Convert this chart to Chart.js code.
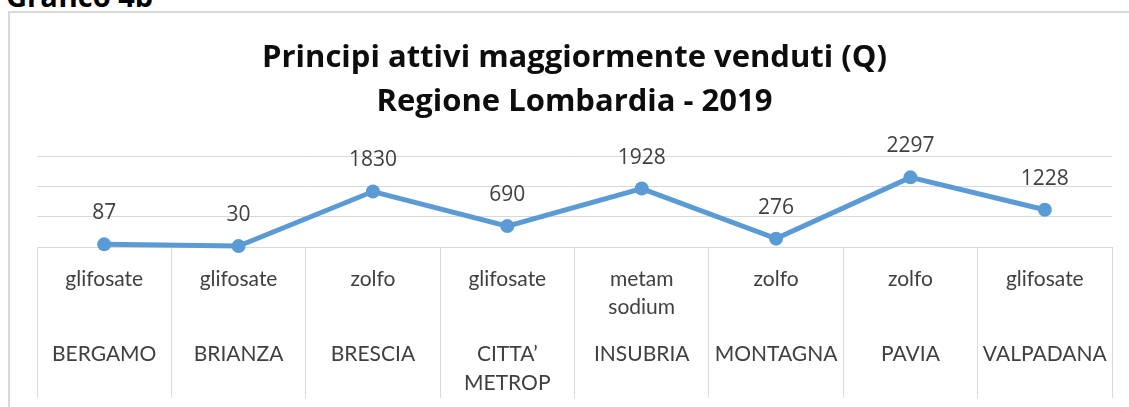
<!DOCTYPE html>
<html lang="it">
<head>
<meta charset="utf-8">
<title>Grafico 4b</title>
<script src="https://cdn.jsdelivr.net/npm/chart.js@4"></script>
<style>
  body { margin: 0; background: #fff; width: 1129px; height: 407px; overflow: hidden; position: relative; }
  .didascalia { position: absolute; left: 6px; top: -19px; font: bold 29px "Open Sans", sans-serif; line-height: 29px; color: #000; }
  .cornice { position: absolute; left: 8px; top: 11px; width: 1200px; height: 500px; border: 2px solid #d9d9d9; box-sizing: border-box; }
  #grafico { position: absolute; left: 0; top: 0; }
</style>
</head>
<body>
<div class="didascalia">Grafico 4b</div>
<div class="cornice"></div>
<canvas id="grafico" width="1129" height="407"></canvas>
<script>
const regioni = ["BERGAMO", "BRIANZA", "BRESCIA", ["CITTA’", "METROP"], "INSUBRIA", "MONTAGNA", "PAVIA", "VALPADANA"];
const principi = ["glifosate", "glifosate", "zolfo", "glifosate", ["metam", "sodium"], "zolfo", "zolfo", "glifosate"];
const quantita = [87, 30, 1830, 690, 1928, 276, 2297, 1228];
const titolo = ["Principi attivi maggiormente venduti (Q)", "Regione Lombardia - 2019"];
const asseMax = 3000;
const asseStep = 1000;

const coloreTesto = "#404040";
const fontAsse = "21px Lato, sans-serif";
const fontValori = "21px 'Open Sans', sans-serif";

// etichette dei valori sopra i punti
const etichetteValori = {
  id: "etichetteValori",
  afterDatasetsDraw(chart) {
    const ctx = chart.ctx;
    const meta = chart.getDatasetMeta(0);
    ctx.save();
    ctx.font = fontValori;
    ctx.fillStyle = coloreTesto;
    ctx.textAlign = "center";
    ctx.textBaseline = "middle";
    meta.data.forEach((p, i) => {
      ctx.fillText(String(quantita[i]), p.x, p.y - 31);
    });
    ctx.restore();
  }
};

// asse a due livelli: principio attivo sopra, ATS sotto
const asseDueLivelli = {
  id: "asseDueLivelli",
  afterDraw(chart) {
    const ctx = chart.ctx;
    const x = chart.scales.x;
    const base = chart.chartArea.bottom;
    ctx.save();
    ctx.font = fontAsse;
    ctx.fillStyle = coloreTesto;
    ctx.textAlign = "center";
    ctx.textBaseline = "middle";
    regioni.forEach((r, i) => {
      const cx = x.getPixelForValue(i);
      [].concat(principi[i]).forEach((riga, k) => {
        ctx.fillText(riga, cx, base + 32 + k * 28);
      });
      [].concat(r).forEach((riga, k) => {
        ctx.fillText(riga, cx, base + 107 + k * 29);
      });
    });
    ctx.restore();
  }
};

new Chart(document.getElementById("grafico").getContext("2d"), {
  type: "line",
  data: {
    labels: regioni.map(r => [].concat(r).join(" ")),
    datasets: [{
      data: quantita,
      borderColor: "#5b9bd5",
      backgroundColor: "#5b9bd5",
      borderWidth: 5,
      pointRadius: 7,
      pointBorderWidth: 0,
      tension: 0,
      clip: false
    }]
  },
  options: {
    responsive: false,
    devicePixelRatio: 1,
    animation: false,
    layout: { padding: { left: 37, right: 17, top: 0, bottom: 9 } },
    plugins: {
      legend: { display: false },
      tooltip: { enabled: false },
      title: {
        display: true,
        text: titolo,
        color: "#0d0d0d",
        font: { family: "'Open Sans', sans-serif", size: 31, weight: "bold", lineHeight: 1.42 },
        padding: { top: 36, bottom: 32 }
      }
    },
    scales: {
      x: {
        offset: true,
        grid: { offset: true, drawOnChartArea: false, drawTicks: true, tickLength: 151, color: "#d9d9d9", lineWidth: 1 },
        border: { display: true, color: "#d9d9d9", width: 1 },
        ticks: { display: false }
      },
      y: {
        min: 0,
        max: asseMax,
        ticks: { display: false, stepSize: asseStep },
        grid: { color: "#d9d9d9", drawTicks: false, lineWidth: 1 },
        border: { display: false }
      }
    }
  },
  plugins: [etichetteValori, asseDueLivelli]
});
</script>
</body>
</html>
